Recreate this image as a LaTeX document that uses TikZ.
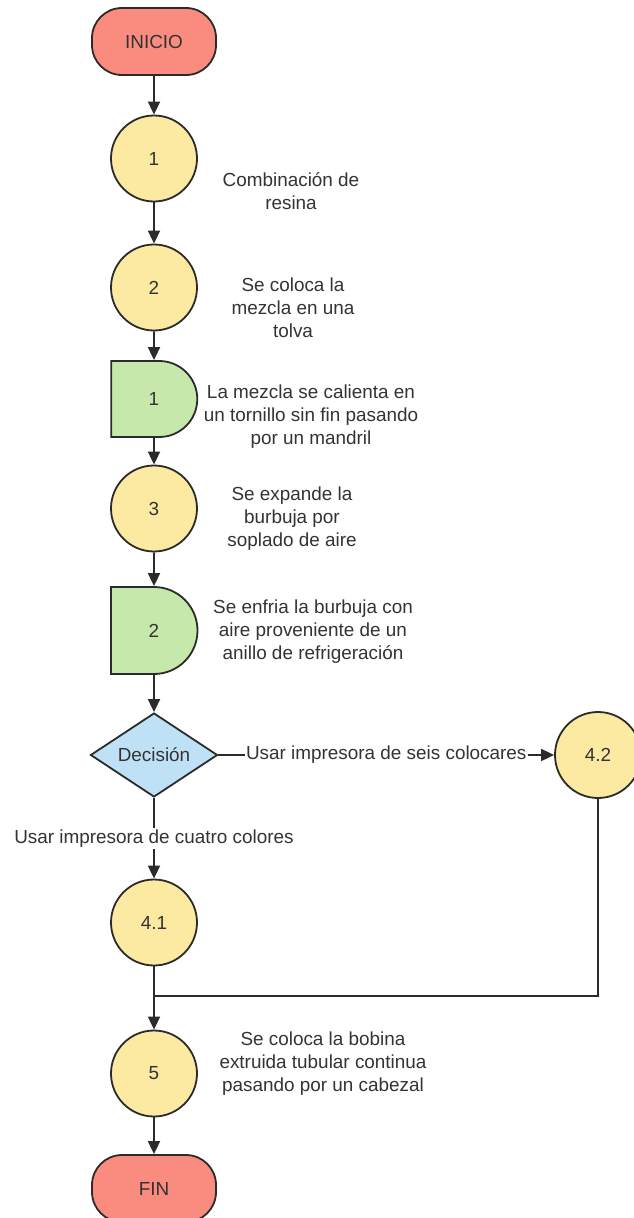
\documentclass[tikz,border=0pt]{standalone}
\usepackage{fontspec}
\setmainfont{Liberation Sans}
\usetikzlibrary{shapes.geometric,shapes.misc,arrows.meta}
\definecolor{termred}{HTML}{F98C7F}
\definecolor{procyellow}{HTML}{FCE9A2}
\definecolor{delaygreen}{HTML}{C6E8AA}
\definecolor{decblue}{HTML}{BEE1F5}
\definecolor{linegray}{HTML}{2B2B2B}
\definecolor{txtgray}{HTML}{333333}
\begin{document}
\begin{tikzpicture}[x=1pt,y=1pt,
  every node/.style={font=\fontsize{18.9}{23}\selectfont, text=txtgray},
  outline/.style={draw=linegray, line width=1.8pt},
  terminal/.style={outline, fill=termred, rectangle, rounded corners=30pt, minimum width=124pt, minimum height=67pt, inner sep=0pt},
  proc/.style={outline, fill=procyellow, circle, minimum size=86pt, inner sep=0pt},
  delaybox/.style={outline, fill=delaygreen, rounded rectangle, rounded rectangle left arc=none, minimum width=86pt, inner sep=0pt},
  decide/.style={outline, fill=decblue, diamond, minimum width=127pt, minimum height=84pt, inner sep=0pt, shape aspect=1.5},
  flow/.style={draw=linegray, line width=1.8pt, -{Triangle[width=12pt,length=13pt]}},
  link/.style={draw=linegray, line width=1.8pt},
  note/.style={align=center},
  edgelabel/.style={fill=white, inner sep=1.5pt}
]
\useasboundingbox (0,0) rectangle (634,-1218);
\clip (0,0) rectangle (634,-1218);

% main column
\node[terminal] (ini) at (154,-41.5) {INICIO};
\node[proc] (c1) at (154,-158.5) {1};
\node[proc] (c2) at (154,-287.5) {2};
\node[delaybox, minimum height=76pt] (d1) at (154,-399) {1};
\node[proc] (c3) at (154,-508.5) {3};
\node[delaybox, minimum height=87pt] (d2) at (154,-630.5) {2};
\node[decide] (dec) at (154,-755) {Decisión};
\node[proc] (c41) at (154,-922.5) {4.1};
\node[proc] (c42) at (598,-755) {4.2};
\node[proc] (c5) at (154,-1073.5) {5};
\node[terminal] (fin) at (154,-1188.5) {FIN};
\coordinate (join) at (154,-996);

% descriptions
\node[note] (t1) at (291,-191) {Combinación de\\resina};
\node[note] (t2) at (293,-308) {Se coloca la\\mezcla en una\\tolva};
\node[note] (t3) at (311,-417) {La mezcla se calienta en\\un tornillo sin fin pasando\\por un mandril};
\node[note] (t4) at (292,-519) {Se expande la\\burbuja por\\soplado de aire};
\node[note] (t5) at (313,-632) {Se enfria la burbuja con\\aire proveniente de un\\anillo de refrigeración};
\node[note] (t6) at (323,-1064) {Se coloca la bobina\\extruida tubular continua\\pasando por un cabezal};

% connectors
\draw[flow] (ini) -- (c1);
\draw[flow] (c1) -- (c2);
\draw[flow] (c2) -- (d1);
\draw[flow] (d1) -- (c3);
\draw[flow] (c3) -- (d2);
\draw[flow] (d2) -- (dec);
\draw[flow] (dec.east) -- node[edgelabel] (l42) {Usar impresora de seis colocares} (c42.west);
\draw[flow] (dec.south) -- node[edgelabel] (l41) {Usar impresora de cuatro colores} (c41.north);
\draw[flow] (c41) -- (c5);
\draw[link] (c42.south) |- (join);
\draw[flow] (c5) -- (fin);
\end{tikzpicture}
\end{document}
